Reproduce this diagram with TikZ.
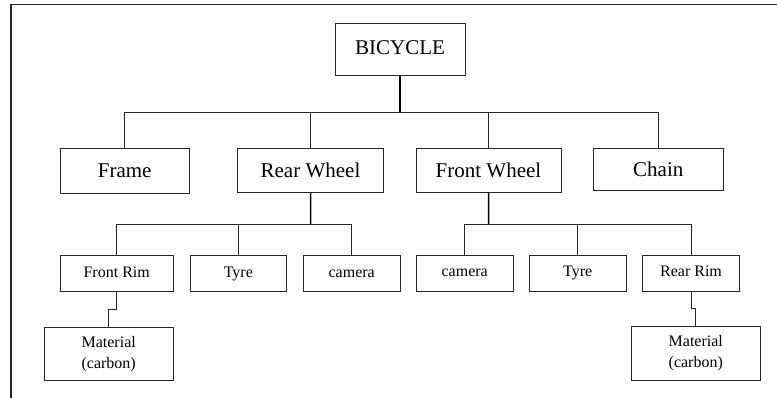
\documentclass[tikz,border=0pt]{standalone}
\usepackage{fontspec}
\setmainfont{Liberation Serif}
\begin{document}
\begin{tikzpicture}[x=1pt,y=-1pt,
  box/.style={draw=black!85,line width=0.9pt,inner sep=0pt,align=center},
  big/.style={box,font=\fontsize{21}{25}\selectfont},
  small/.style={box,font=\fontsize{16}{20.7}\selectfont,minimum height=35.7,text height=11,text depth=4.4},
  mat/.style={box,font=\fontsize{16}{20.7}\selectfont},
  conn/.style={draw=black!85,line width=0.9pt},
  trunk/.style={draw=black,line width=1.5pt}]
\useasboundingbox (0,0) rectangle (777,398);
\draw[line width=1.2pt,draw=black!85] (11,398) -- (11,4.5) -- (777,4.5);
% level 0
\node[big,minimum width=130,minimum height=51.7] (bicycle) at (400,49.2) {\raisebox{4pt}{BICYCLE}};
% level 1
\node[big,minimum width=129.3,minimum height=45] (frame) at (124.7,170.8) {Frame};
\node[big,minimum width=145.6,minimum height=44] (rw) at (310.5,170.3) {Rear Wheel};
\node[big,minimum width=145,minimum height=44] (fw) at (488.5,170) {Front Wheel};
\node[big,minimum width=130,minimum height=42.7] (chain) at (658.3,169.4) {Chain};
% level 2
\node[small,minimum width=113.3] (frim) at (116.7,273.8) {Front Rim};
\node[small,minimum width=96.7] (tyre1) at (238.3,273.8) {Tyre};
\node[small,minimum width=96.7] (cam1) at (351.7,273.8) {camera};
\node[small,minimum width=97.3] (cam2) at (464.7,273.5) {camera};
\node[small,minimum width=96.7] (tyre2) at (577.7,273.5) {Tyre};
\node[small,minimum width=96.8] (rrim) at (691,273.5) {Rear Rim};
% level 3
\node[mat,minimum width=129.3,minimum height=53] (mat1) at (108.7,354.2) {\raisebox{-2.5pt}{\begin{tabular}{@{}c@{}}Material\\(carbon)\end{tabular}}};
\node[mat,minimum width=129.7,minimum height=54] (mat2) at (695.8,353) {\raisebox{-2.5pt}{\begin{tabular}{@{}c@{}}Material\\(carbon)\end{tabular}}};
% connectors
\coordinate (bus0) at (400,112.5);
\coordinate (busr) at (310.7,224);
\coordinate (busf) at (488.7,224);
\coordinate (j1) at (116.7,309.3);
\coordinate (j2) at (691,308.3);
\draw[trunk] (bicycle.south) -- (bus0);
\draw[conn] (frame.north) |- (bus0 -| chain.north) -- (chain.north);
\draw[conn] (rw.north) -- (rw.north |- bus0);
\draw[conn] (fw.north) -- (fw.north |- bus0);
\draw[trunk] (rw.south) -- (busr);
\draw[conn] (frim.north) |- (busr -| cam1.north) -- (cam1.north);
\draw[conn] (tyre1.north) -- (tyre1.north |- busr);
\draw[trunk] (fw.south) -- (busf);
\draw[conn] (cam2.north) |- (busf -| rrim.north) -- (rrim.north);
\draw[conn] (tyre2.north) -- (tyre2.north |- busf);
\draw[conn] (frim.south) -- (j1) -| (mat1.north);
\draw[conn] (rrim.south) -- (j2) -| (mat2.north);
\end{tikzpicture}
\end{document}
